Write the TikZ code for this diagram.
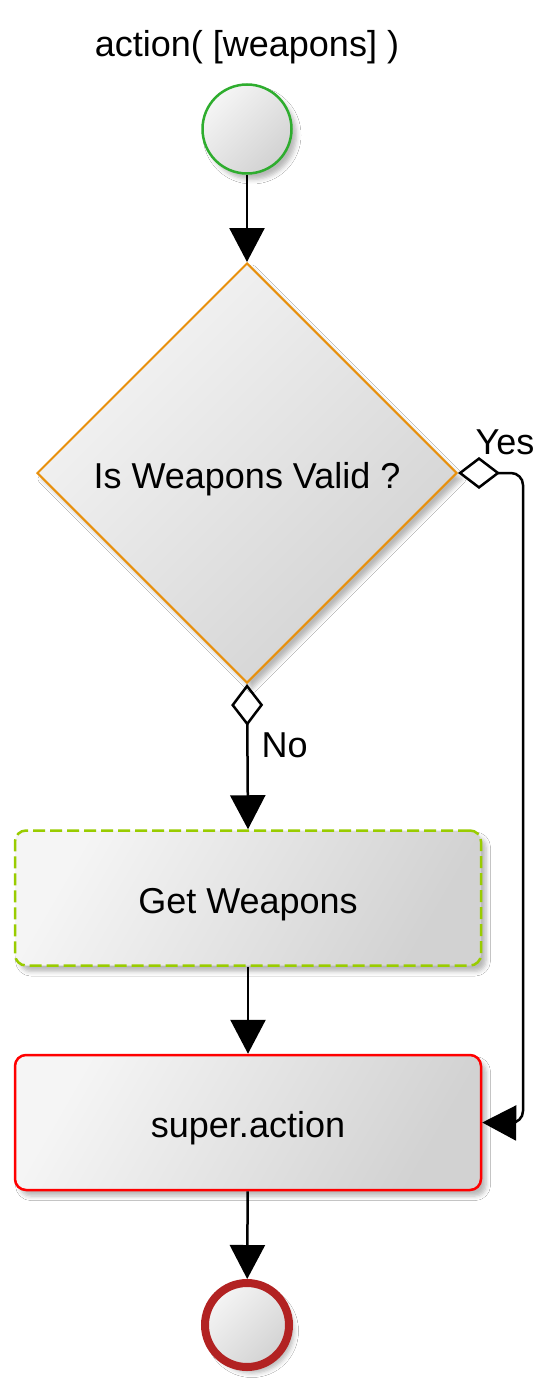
\documentclass[tikz,border=0pt]{standalone}
\usepackage{fontspec}
\setmainfont{Liberation Sans}
\usetikzlibrary{shapes.geometric,arrows.meta,shadows.blur}
\definecolor{cgreen}{HTML}{2EAD2E}
\definecolor{corange}{HTML}{E8900C}
\definecolor{clime}{HTML}{99CC00}
\definecolor{cred}{HTML}{FF0000}
\definecolor{cdark}{HTML}{B22222}
\definecolor{shlight}{HTML}{F5F5F5}
\definecolor{shdark}{HTML}{D2D2D2}
\begin{document}
\begin{tikzpicture}[x=1pt,y=1pt,
  txt/.style={font=\fontsize{36}{42}\selectfont, text=black},
  ctxt/.style={txt, text height=30pt, text depth=0pt},
  shadowed/.style={blur shadow={shadow xshift=5pt, shadow yshift=-6pt, shadow blur radius=4.5pt, shadow opacity=28}},
  grad/.style={left color=shlight, right color=shdark, shading angle=#1},
  arr/.style={line width=2.5pt, -{Triangle[length=34pt,width=35pt]}},
  branch/.style={line width=2.5pt, {Diamond[open,length=42pt,width=32pt]}-{Triangle[length=34pt,width=35pt]}},
  boxnode/.style={rectangle, rounded corners=11pt, minimum width=466pt, minimum height=135pt, line width=2.5pt, inner sep=0pt, ctxt, shadowed, grad=60}
]
\fill[white] (0,0) rectangle (558,-1386);
\useasboundingbox (0,0) rectangle (558,-1386);

\node[txt] (title) at (247,-47) {action( [weapons] )};

\node[circle, minimum size=89pt, inner sep=0pt, draw=cgreen, line width=2.5pt, shadowed, grad=45] (start) at (247,-129) {};

\node[diamond, aspect=1, minimum width=420pt, minimum height=420pt, inner sep=0pt, draw=corange, line width=2pt, shadowed, grad=45, ctxt] (dec) at (247,-473) {Is Weapons Valid ?};

\node[boxnode, draw=clime, dash pattern=on 12pt off 5pt] (gw) at (248,-898) {Get Weapons};

\node[boxnode, draw=cred] (sa) at (248,-1122.5) {super.action};

\node[circle, minimum size=84pt, inner sep=0pt, draw=cdark, line width=8pt, shadowed, grad=45] (end) at (247,-1325) {};

\coordinate (ytop) at (523,-473);
\coordinate (ybot) at (523,-1123);

\draw[arr] (start) -- (dec);
\draw[branch] (dec.south) -- (gw.north);
\node[txt, anchor=west] (no) at (258,-745) {No};
\draw[branch, rounded corners=12pt] (dec.east) -- (ytop) -- (ybot) -- (sa.east);
\node[txt, anchor=west] (yes) at (472,-442) {Yes};
\draw[arr] (gw) -- (sa);
\draw[arr] (sa) -- (end);
\end{tikzpicture}
\end{document}
